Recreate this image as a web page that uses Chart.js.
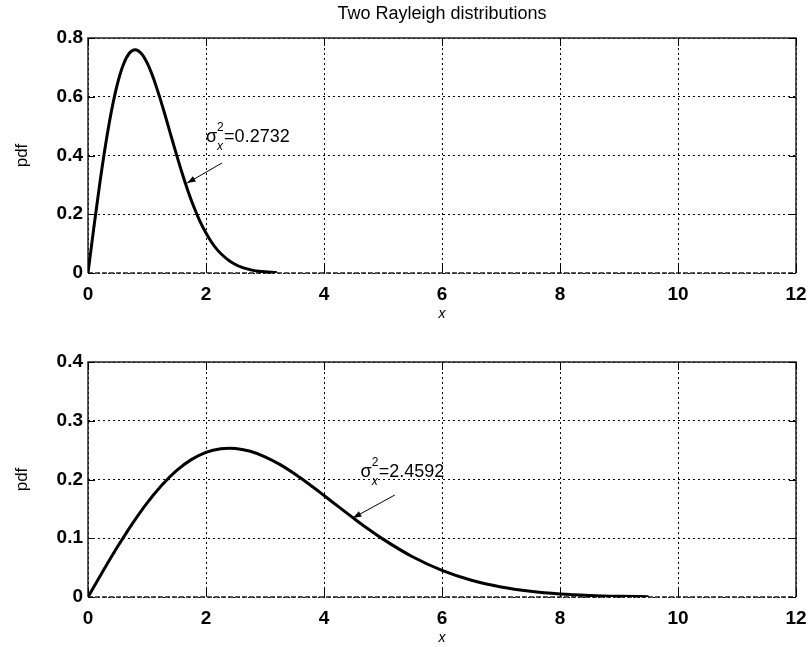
<!DOCTYPE html>
<html>
<head>
<meta charset="utf-8">
<script src="https://cdn.jsdelivr.net/npm/chart.js@4.4.0/dist/chart.umd.min.js"></script>
<style>
html,body{margin:0;padding:0;background:#fff;}
#wrap{position:relative;width:810px;height:647px;}
.box{position:absolute;left:0;width:810px;}
</style>
</head>
<body>
<div id="wrap">
  <div class="box" style="top:0;height:323px"><canvas id="c1" width="810" height="323"></canvas></div>
  <div class="box" style="top:323px;height:324px"><canvas id="c2" width="810" height="324"></canvas></div>
</div>
<script>
// data
const xTicks=[0,2,4,6,8,10,12];
const yTicksTop=[0,0.2,0.4,0.6,0.8];
const yTicksBot=[0,0.1,0.2,0.3,0.4];

const xTop=[0,0.1,0.2,0.3,0.4,0.5,0.6,0.7,0.8,0.9,1.0,1.1,1.2,1.3,1.4,1.5,1.6,1.7,1.8,1.9,2.0,2.1,2.2,2.3,2.4,2.5,2.6,2.7,2.8,2.9,3.0,3.1,3.2];
const pdfTop=[0,0.156,0.305,0.439,0.554,0.645,0.710,0.748,0.760,0.748,0.716,0.668,0.608,0.542,0.472,0.403,0.337,0.276,0.222,0.175,0.136,0.103,0.077,0.057,0.041,0.029,0.020,0.014,0.009,0.006,0.004,0.0025,0.0016];

const xBot=[0,0.25,0.5,0.75,1.0,1.25,1.5,1.75,2.0,2.25,2.4,2.5,2.75,3.0,3.25,3.5,3.75,4.0,4.25,4.5,4.75,5.0,5.5,6.0,6.5,7.0,7.5,8.0,8.5,9.0,9.5];
const pdfBot=[0,0.0434,0.0854,0.1246,0.1599,0.1903,0.2151,0.2338,0.2462,0.2525,0.2534,0.2529,0.2481,0.2387,0.2257,0.2097,0.1919,0.1728,0.1533,0.1342,0.1157,0.0985,0.0685,0.0453,0.0284,0.0170,0.0097,0.0052,0.0027,0.0013,0.0006];

const noteTop={value:'0.2732',at:[2.0,0.463],tail:[2.27,0.3745],head:[1.68,0.306]};
const noteBot={value:'2.4592',at:[4.62,0.2128],tail:[5.20,0.1736],head:[4.49,0.1345]};

const SANS='"Liberation Sans", Arial, sans-serif';

function drawNote(chart,n){
  const {ctx,scales:{x,y}}=chart;
  const tx=x.getPixelForValue(n.tail[0]),ty=y.getPixelForValue(n.tail[1]);
  const hx=x.getPixelForValue(n.head[0]),hy=y.getPixelForValue(n.head[1]);
  ctx.save();
  ctx.strokeStyle='#000';ctx.fillStyle='#000';ctx.lineWidth=1;
  ctx.beginPath();ctx.moveTo(tx,ty);ctx.lineTo(hx,hy);ctx.stroke();
  const ang=Math.atan2(hy-ty,hx-tx);
  ctx.beginPath();ctx.moveTo(hx,hy);
  ctx.lineTo(hx-9*Math.cos(ang-0.35),hy-9*Math.sin(ang-0.35));
  ctx.lineTo(hx-9*Math.cos(ang+0.35),hy-9*Math.sin(ang+0.35));
  ctx.closePath();ctx.fill();
  const px=x.getPixelForValue(n.at[0]),py=y.getPixelForValue(n.at[1]);
  ctx.textBaseline='middle';ctx.textAlign='left';
  ctx.font='18px '+SANS;
  ctx.fillText('\u03c3',px,py);
  const w=ctx.measureText('\u03c3').width;
  ctx.font='12px '+SANS;
  ctx.fillText('2',px+w,py-9);
  ctx.font='italic 12px '+SANS;
  ctx.fillText('x',px+w,py+10);
  ctx.font='18px '+SANS;
  ctx.fillText('='+n.value,px+w+7,py);
  ctx.restore();
}

const frame={
  id:'frame',
  beforeDatasetsDraw(chart){
    const {ctx,chartArea:a,scales:{x,y}}=chart;
    ctx.save();
    ctx.strokeStyle='#222';ctx.lineWidth=1.5;
    ctx.beginPath();ctx.moveTo(a.left,a.bottom);ctx.lineTo(a.left,a.top);ctx.lineTo(a.right,a.top);ctx.lineTo(a.right,a.bottom);ctx.stroke();
    ctx.setLineDash([5,2]);
    ctx.beginPath();ctx.moveTo(a.left,a.bottom);ctx.lineTo(a.right,a.bottom);ctx.stroke();
    ctx.setLineDash([]);
    ctx.lineWidth=1;ctx.strokeStyle='#000';
    x.ticks.forEach(t=>{
      const p=Math.round(x.getPixelForValue(t.value))+0.5;
      ctx.beginPath();ctx.moveTo(p,a.top);ctx.lineTo(p,a.top+8);ctx.moveTo(p,a.bottom);ctx.lineTo(p,a.bottom-8);ctx.stroke();
    });
    y.ticks.forEach(t=>{
      const p=Math.round(y.getPixelForValue(t.value))+0.5;
      ctx.beginPath();ctx.moveTo(a.left,p);ctx.lineTo(a.left+7,p);ctx.moveTo(a.right,p);ctx.lineTo(a.right-7,p);ctx.stroke();
    });
    ctx.restore();
  },
  afterDraw(chart,args,opts){
    const {ctx,chartArea:a}=chart;
    if(opts.title){
      ctx.save();
      ctx.font='18px '+SANS;ctx.fillStyle='#000';ctx.textAlign='center';ctx.textBaseline='middle';
      ctx.fillText(opts.title,(a.left+a.right)/2,14);
      ctx.restore();
    }
    if(opts.note) drawNote(chart,opts.note);
  }
};

function makeChart(id,xs,ys,yTicks,yMax,padTop,title,note){
  const pts=xs.map((v,i)=>({x:v,y:ys[i]}));
  return new Chart(document.getElementById(id),{
    type:'line',
    data:{datasets:[{data:pts,borderColor:'#000',borderWidth:3,pointRadius:0,fill:false,cubicInterpolationMode:'monotone'}]},
    plugins:[frame],
    options:{
      responsive:false,
      animation:false,
      layout:{padding:{top:padTop,right:14,left:0,bottom:0}},
      plugins:{legend:{display:false},tooltip:{enabled:false},frame:{title:title,note:note}},
      scales:{
        x:{
          type:'linear',min:0,max:12,
          afterBuildTicks:s=>{s.ticks=xTicks.map(v=>({value:v}));},
          afterFit:s=>{s.height=50;s.paddingLeft=0;s.paddingRight=0;},
          grid:{color:'#000',lineWidth:1,drawTicks:false},
          border:{display:false,dash:[2,3]},
          ticks:{color:'#000',padding:10,maxRotation:0,font:{family:SANS,size:19,weight:'bold'},callback:v=>String(v)},
          title:{display:true,text:'x',color:'#000',padding:{top:0,bottom:0},font:{family:SANS,size:14,style:'italic'}}
        },
        y:{
          type:'linear',min:0,max:yMax,
          afterBuildTicks:s=>{s.ticks=yTicks.map(v=>({value:v}));},
          afterFit:s=>{s.width=88;s.paddingTop=0;s.paddingBottom=0;},
          grid:{color:'#000',lineWidth:1,drawTicks:false},
          border:{display:false,dash:[2,3]},
          ticks:{color:'#000',padding:5,font:{family:SANS,size:19,weight:'bold'},callback:v=>String(v)},
          title:{display:true,text:'pdf',color:'#000',padding:{top:12,bottom:12},font:{family:SANS,size:17}}
        }
      }
    }
  });
}

makeChart('c1',xTop,pdfTop,yTicksTop,0.8,38,'Two Rayleigh distributions',noteTop);
makeChart('c2',xBot,pdfBot,yTicksBot,0.4,39,null,noteBot);
</script>
</body>
</html>
